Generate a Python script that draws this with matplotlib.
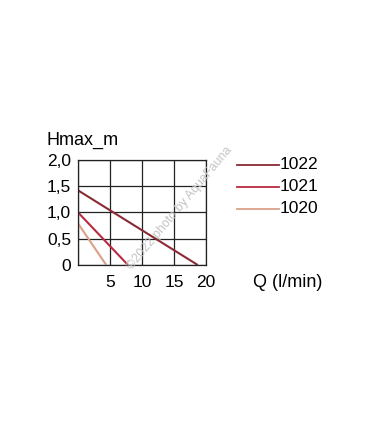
import matplotlib.pyplot as plt

plt.rcParams['font.family'] = ['Liberation Sans', 'DejaVu Sans']

# pump curves: flow Q (l/min) vs head H (m)
models = ['1022', '1021', '1020']
q_values = [[0, 18.7], [0, 7.8], [0, 4.4]]
h_values = [[1.42, 0], [1.0, 0], [0.79, 0]]
colors = ['#8a2a35', '#b92a40', '#dba088']

x_ticks = [0, 5, 10, 15, 20]
x_labels = ['', '5', '10', '15', '20']
y_ticks = [0, 0.5, 1.0, 1.5, 2.0]
y_labels = ['0', '0,5', '1,0', '1,5', '2,0']

fig = plt.figure(figsize=(3.7, 4.23), dpi=100)
ax = fig.add_axes([0.211, 0.3735, 0.346, 0.2485])

for q, h, c in zip(q_values, h_values, colors):
    ax.plot(q, h, color=c, linewidth=1.5, solid_capstyle='butt')

ax.set_xlim(0, 20)
ax.set_ylim(0, 2.0)
ax.set_xticks(x_ticks)
ax.set_xticklabels(x_labels)
ax.set_yticks(y_ticks)
ax.set_yticklabels(y_labels)
ax.tick_params(length=0, labelsize=12.5)
ax.tick_params(axis='y', pad=5)
ax.tick_params(axis='x', pad=7)
ax.grid(True, color='#222222', linewidth=0.9)
for side in ['top', 'right', 'left', 'bottom']:
    ax.spines[side].set_color('#222222')
    ax.spines[side].set_linewidth(0.9)
ax.set_axisbelow(True)

fig.text(0.127, 0.668, 'Hmax_m', fontsize=13, ha='left', va='center')
fig.text(0.683, 0.333, 'Q (l/min)', fontsize=13, ha='left', va='center')

# legend drawn by hand at the right of the chart
legend_y = [0.610, 0.558, 0.506]
for name, c, y in zip(models, colors, legend_y):
    fig.add_artist(plt.Line2D([0.640, 0.755], [y, y], color=c, linewidth=1.3,
                              transform=fig.transFigure))
    fig.text(0.757, y, name, fontsize=12.5, ha='left', va='center')

fig.text(0.487, 0.508, '\u00a92022 photo by AquaFauna', fontsize=9, color='#c4c4c4',
         rotation=50, ha='center', va='center')

fig.savefig('out.png', dpi=100)
